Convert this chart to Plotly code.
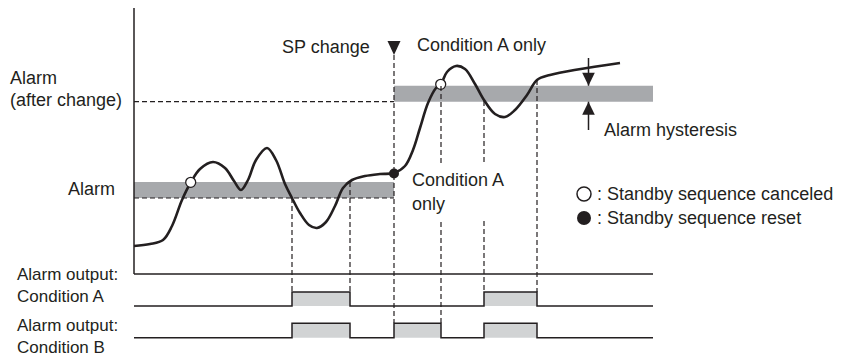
import plotly.graph_objects as go

# ── Diagram coordinates (x: time, y: screen units, top = 0) ──────
curve_x = [134, 150, 163, 172, 182, 191, 200, 213, 225, 234, 241, 248, 256, 267,
           276, 285, 292, 300, 309, 317, 326, 335, 343, 352, 365, 380, 394, 405,
           413, 420, 428, 436, 441, 447, 456, 465, 475, 484, 495, 505, 515, 527,
           537, 550, 620]
curve_y = [246, 244, 240, 226, 200, 182, 169, 162, 168, 181, 190, 180, 160, 148,
           160, 184, 198, 213, 225, 228, 222, 206, 188, 180, 176, 174, 173, 166,
           150, 128, 103, 88, 84, 72, 66, 69, 84, 100, 114, 117, 110, 95,
           80, 75, 63]

canceled_x = [190.7, 440.7]
canceled_y = [182.3, 84.3]
reset_x = [394]
reset_y = [173.5]

alarm_before = 198      # alarm value before SP change
alarm_after = 101.7     # alarm value after SP change
hysteresis = 16
sp_change_x = 394

event_x = [292, 350, 394, 441, 484, 537]
event_top = [198, 182, 55, 86, 101, 80]
event_bottom = [292, 292, 323, 323, 292, 292]

cond_a_on = [292, 484]
cond_a_off = [350, 537]
cond_b_on = [292, 394, 484]
cond_b_off = [350, 441, 537]

X0, X1 = 134, 653
INK = "#231f20"
BAND = "#a7a9ac"
PULSE = "#d1d3d4"
FONT = dict(family="Liberation Sans, Arial, sans-serif", size=18, color=INK)
PAGE_MARGIN = 8   # default body margin of the html page

fig = go.Figure()

# hysteresis bands
fig.add_shape(type="rect", x0=X0, x1=sp_change_x, y0=alarm_before - hysteresis,
              y1=alarm_before, fillcolor=BAND, line_width=0, layer="below")
fig.add_shape(type="rect", x0=sp_change_x, x1=X1, y0=alarm_after - hysteresis,
              y1=alarm_after, fillcolor=BAND, line_width=0, layer="below")

# dashed reference lines
for yv in [alarm_before, alarm_after]:
    fig.add_shape(type="line", x0=X0, x1=sp_change_x, y0=yv, y1=yv,
                  line=dict(color=INK, width=1.2, dash="5px,3px"))
for xv, t, b in zip(event_x, event_top, event_bottom):
    fig.add_shape(type="line", x0=xv, x1=xv, y0=t, y1=b,
                  line=dict(color=INK, width=1.2, dash="5px,3px"))

# axes
fig.add_shape(type="line", x0=X0, x1=X0, y0=8, y1=274, line=dict(color=INK, width=1.5))
fig.add_shape(type="line", x0=X0, x1=X1, y0=274, y1=274, line=dict(color=INK, width=1.5))

# SP change marker
fig.add_shape(type="path", path=f"M {sp_change_x-6.5},41 L {sp_change_x+6.5},41 L {sp_change_x},55 Z",
              fillcolor=INK, line_width=0)

# hysteresis arrows
hx = 588.5
top, bot = alarm_after - hysteresis, alarm_after
fig.add_shape(type="line", x0=hx, x1=hx, y0=58, y1=top, line=dict(color=INK, width=1.5))
fig.add_shape(type="line", x0=hx, x1=hx, y0=bot, y1=130, line=dict(color=INK, width=1.5))
fig.add_shape(type="path", path=f"M {hx-6.3},{top-13} L {hx+6.3},{top-13} L {hx},{top} Z",
              fillcolor=INK, line_width=0)
fig.add_shape(type="path", path=f"M {hx-6.3},{bot+13} L {hx+6.3},{bot+13} L {hx},{bot} Z",
              fillcolor=INK, line_width=0)


def step_trace(ons, offs, low, high):
    xs, ys = [X0], [low]
    for a, b in zip(ons, offs):
        xs += [a, a, b, b]
        ys += [low, high, high, low]
    xs.append(X1)
    ys.append(low)
    return xs, ys


for ons, offs, low, high in [(cond_a_on, cond_a_off, 306, 292),
                             (cond_b_on, cond_b_off, 337.7, 323.3)]:
    for a, b in zip(ons, offs):
        fig.add_trace(go.Scatter(x=[a, a, b, b], y=[low, high, high, low], fill="toself",
                                 fillcolor=PULSE, mode="none", hoverinfo="skip"))
    xs, ys = step_trace(ons, offs, low, high)
    fig.add_trace(go.Scatter(x=xs, y=ys, mode="lines",
                             line=dict(color=INK, width=1.5), hoverinfo="skip"))

# process value
fig.add_trace(go.Scatter(x=curve_x, y=curve_y, mode="lines",
                         line=dict(color=INK, width=2.6, shape="spline", smoothing=1.0),
                         hoverinfo="skip"))
fig.add_trace(go.Scatter(x=canceled_x, y=canceled_y, mode="markers",
                         marker=dict(size=10, color="white", line=dict(color=INK, width=1.3))))
fig.add_trace(go.Scatter(x=reset_x, y=reset_y, mode="markers",
                         marker=dict(size=10, color=INK)))

# legend symbols
fig.add_trace(go.Scatter(x=[584], y=[194], mode="markers",
                         marker=dict(size=14, color="white", line=dict(color=INK, width=1.5))))
fig.add_trace(go.Scatter(x=[584], y=[218], mode="markers",
                         marker=dict(size=14, color=INK)))

labels = [
    ("SP change", 372, 47, "right"),
    ("Condition A only", 415, 45, "left"),
    ("Alarm", 8, 78, "left"),
    ("(after change)", 8, 100, "left"),
    ("Alarm", 117, 189, "right"),
    (": Standby sequence canceled", 595, 194, "left"),
    (": Standby sequence reset", 595, 218, "left"),
    ("Alarm hysteresis", 602, 130, "left"),
]
for text, x, y, anchor in labels:
    fig.add_annotation(x=x, y=y, text=text, showarrow=False, xanchor=anchor,
                       yanchor="middle", font=FONT)

# two-line row labels
for text, y in [("Alarm output:<br>Condition A", 285), ("Alarm output:<br>Condition B", 336)]:
    fig.add_annotation(x=15, y=y, text=text, showarrow=False, xanchor="left",
                       yanchor="middle", align="left", font=dict(FONT, size=17))

fig.add_annotation(x=410, y=192, text="Condition A<br>only", showarrow=False,
                   xanchor="left", yanchor="middle", align="left", font=FONT,
                   bgcolor="white", width=100, height=54, valign="middle")

fig.update_layout(
    width=842 - PAGE_MARGIN, height=358 - PAGE_MARGIN,
    margin=dict(l=0, r=0, t=0, b=0),
    paper_bgcolor="white", plot_bgcolor="white",
    showlegend=False,
    xaxis=dict(range=[PAGE_MARGIN, 842], visible=False, fixedrange=True),
    yaxis=dict(range=[358, PAGE_MARGIN], visible=False, fixedrange=True),
)

fig.write_html("out.html")
